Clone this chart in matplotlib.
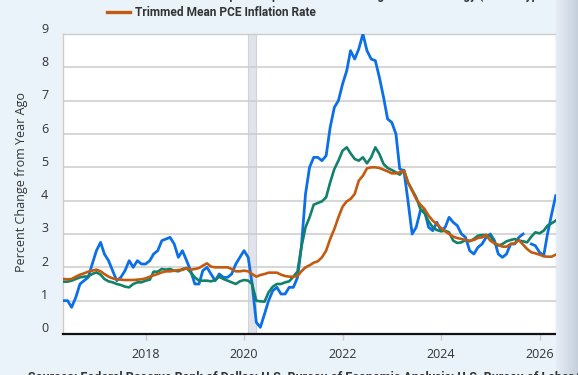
import numpy as np
import pandas as pd
import matplotlib
matplotlib.use("Agg")
import matplotlib.pyplot as plt
from matplotlib.transforms import ScaledTranslation
from matplotlib.colors import LinearSegmentedColormap

# monthly, May 2016 .. May 2026
dates = pd.date_range("2016-05-01", "2026-05-01", freq="MS")

cpi = [
    1.0, 1.0, 0.8, 1.1, 1.5, 1.6, 1.7, 2.1,
    2.5, 2.75, 2.4, 2.2, 1.9, 1.6, 1.7, 1.9, 2.2, 2.0, 2.2, 2.1,
    2.1, 2.2, 2.4, 2.5, 2.8, 2.85, 2.9, 2.7, 2.3, 2.5, 2.2, 1.9,
    1.5, 1.5, 1.9, 2.0, 1.8, 1.6, 1.8, 1.7, 1.7, 1.8, 2.1, 2.3,
    2.5, 2.3, 1.5, 0.35, 0.2, 0.6, 1.0, 1.3, 1.4, 1.2, 1.2, 1.4,
    1.4, 1.7, 2.6, 4.2, 5.0, 5.3, 5.3, 5.2, 5.35, 6.2, 6.8, 7.0,
    7.5, 7.9, 8.5, 8.25, 8.55, 9.0, 8.5, 8.25, 8.2, 7.7, 7.1, 6.45,
    6.35, 6.0, 4.95, 4.9, 4.0, 3.0, 3.2, 3.7, 3.7, 3.2, 3.1, 3.35,
    3.1, 3.2, 3.5, 3.35, 3.25, 3.0, 2.9, 2.5, 2.4, 2.6, 2.7, 2.9,
    3.0, 2.8, 2.4, 2.3, 2.4, 2.7, 2.7, 2.9, 3.0, np.nan, 2.7, 2.65,
    2.45, 2.35, 3.0, 3.6, 4.15,
]

core_pce = [
    1.57, 1.57, 1.6, 1.65, 1.7, 1.72, 1.73, 1.8,
    1.85, 1.78, 1.65, 1.58, 1.55, 1.5, 1.47, 1.42, 1.4, 1.5, 1.55, 1.55,
    1.6, 1.63, 1.87, 1.87, 1.95, 1.93, 1.95, 1.9, 1.88, 1.95, 1.98, 1.85,
    1.7, 1.6, 1.6, 1.6, 1.58, 1.62, 1.72, 1.65, 1.6, 1.55, 1.5, 1.58,
    1.62, 1.6, 1.5, 1.0, 0.98, 0.97, 1.25, 1.42, 1.5, 1.5, 1.55, 1.58,
    1.72, 1.88, 2.6, 3.2, 3.5, 3.88, 3.93, 3.98, 4.1, 4.55, 4.95, 5.2,
    5.5, 5.6, 5.42, 5.25, 5.2, 5.3, 5.12, 5.3, 5.6, 5.4, 5.1, 4.98,
    4.92, 4.85, 4.78, 4.92, 4.55, 4.32, 4.1, 3.75, 3.62, 3.38, 3.2, 3.12,
    3.08, 3.1, 3.05, 2.8, 2.73, 2.75, 2.82, 2.78, 2.85, 2.95, 2.97, 2.97,
    2.95, 2.72, 2.65, 2.7, 2.78, 2.82, 2.85, 2.8, 2.78, 2.75, 2.92, 3.05,
    3.02, 3.1, 3.25, 3.32, 3.4,
]

trimmed_mean = [
    1.65, 1.64, 1.65, 1.72, 1.78, 1.82, 1.87, 1.9,
    1.93, 1.88, 1.8, 1.72, 1.67, 1.64, 1.63, 1.62, 1.62, 1.62, 1.63, 1.64,
    1.67, 1.72, 1.76, 1.8, 1.85, 1.88, 1.88, 1.9, 1.92, 1.92, 1.98, 1.93,
    1.95, 1.98, 2.05, 2.12, 2.02, 2.0, 2.0, 2.0, 2.0, 1.95, 1.88, 1.88,
    1.9, 1.88, 1.8, 1.72, 1.77, 1.8, 1.84, 1.84, 1.84, 1.78, 1.74, 1.72,
    1.72, 1.74, 1.88, 2.0, 2.06, 2.14, 2.18, 2.3, 2.5, 2.85, 3.15, 3.5,
    3.82, 3.98, 4.05, 4.2, 4.6, 4.75, 4.97, 5.0, 5.0, 4.98, 4.93, 4.88,
    4.82, 4.82, 4.85, 4.9, 4.55, 4.3, 4.05, 3.88, 3.75, 3.55, 3.4, 3.3,
    3.18, 3.08, 3.0, 2.92, 2.88, 2.85, 2.82, 2.8, 2.82, 2.88, 2.9, 2.97,
    2.8, 2.72, 2.68, 2.62, 2.62, 2.7, 2.72, 2.82, 2.68, 2.55, 2.45, 2.42,
    2.38, 2.33, 2.32, 2.32, 2.38,
]

years = [2018, 2020, 2022, 2024, 2026]
recession = ("2020-02-01", "2020-04-01")

BG = "#eaf2fa"
TXT = "#333333"
BLUE = "#0b6fe8"
GREEN = "#118269"
ORANGE = "#c45a10"

fig = plt.figure(figsize=(5.78, 3.75), dpi=100, facecolor=BG)
ax = fig.add_axes([63.4 / 578, 41 / 375, (555.7 - 63.4) / 578, 300 / 375])
ax.set_facecolor("white")

ax.axvspan(pd.Timestamp(recession[0]), pd.Timestamp(recession[1]),
           color="#e0e4ea", ec="#cfd4db", lw=0.8, zorder=0.5)

ax.plot(dates, cpi, color=BLUE, lw=2.0, zorder=3)
ax.plot(dates, core_pce, color=GREEN, lw=1.9, zorder=4)
ax.plot(dates, trimmed_mean, color=ORANGE, lw=1.9, zorder=5)

ax.set_xlim(dates[0], dates[-1])
ax.set_ylim(0, 9)
ax.set_yticks(range(0, 10))
ax.grid(axis="y", color="#cccccc", lw=1.1, zorder=0)
ax.set_axisbelow(True)

ax.set_xticks([pd.Timestamp(f"{y}-01-01") for y in years])
ax.set_xticklabels([str(y) for y in years])
ax.tick_params(axis="x", length=4, color="#cccccc", width=1, pad=6,
               labelsize=9, labelcolor=TXT)
ax.tick_params(axis="y", length=0, pad=11, labelsize=9, labelcolor=TXT)
for lab in ax.get_yticklabels():
    lab.set_transform(lab.get_transform() + ScaledTranslation(0, 0.065, fig.dpi_scale_trans))
for lab in ax.get_xticklabels() + ax.get_yticklabels():
    lab.set_family("Open Sans")

for s in ["left", "top", "right"]:
    ax.spines[s].set_color("#cccccc")
    ax.spines[s].set_linewidth(1)
ax.spines["bottom"].set_color("#111111")
ax.spines["bottom"].set_linewidth(1.6)

fig.text(22 / 578, 1 - 182 / 375, "Percent Change from Year Ago", rotation=90,
         ha="center", va="center", fontsize=9, color=TXT, family="Open Sans")

# legend (top clipped like the screenshot)
fig.add_artist(plt.Line2D([107 / 578, 130 / 578], [1 - 12 / 375] * 2,
                          color=ORANGE, lw=2.4, transform=fig.transFigure))
fig.text(135 / 578, 1 - 12 / 375, "Trimmed Mean PCE Inflation Rate", ha="left",
         va="center", fontsize=8.6, fontweight="bold", color=TXT, family="Roboto")
fig.text(135 / 578, 1 + 1 / 375,
         "Personal Consumption Expenditures Excluding Food and Energy (Chain-Type Price Index),",
         ha="left", va="baseline", fontsize=8.6, fontweight="bold", color=TXT, family="Roboto")

# source line (bottom clipped)
fig.text(28 / 578, 1 - 371 / 375,
         "Sources: Federal Reserve Bank of Dallas; U.S. Bureau of Economic Analysis; U.S. Bureau of Labor Statistics",
         ha="left", va="top", fontsize=9, fontweight="bold", color=TXT, family="Roboto")

# shaded strip on the right edge
sax = fig.add_axes([556 / 578, 0, 22 / 578, 1])
grad = np.linspace(0, 1, 50).reshape(1, -1)
cmap = LinearSegmentedColormap.from_list("edge", ["#e6edf5", "#c6d0dc"])
sax.imshow(grad, aspect="auto", cmap=cmap, extent=[0, 1, 0, 1])
sax.axis("off")

fig.savefig("out.png", dpi=100, facecolor=BG)
